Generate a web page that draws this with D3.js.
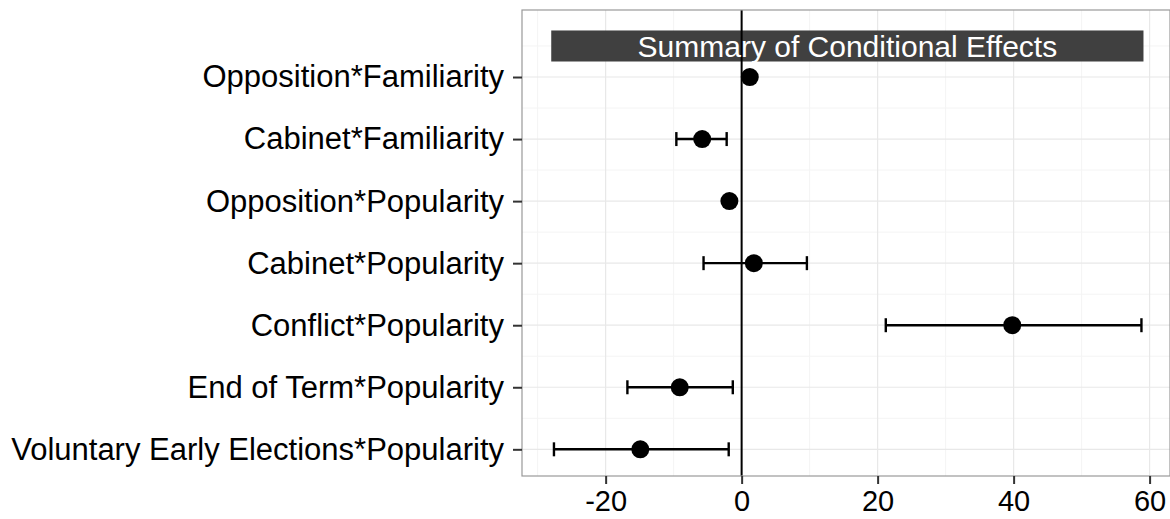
<!DOCTYPE html>
<html>
<head>
<meta charset="utf-8">
<script src="https://cdn.jsdelivr.net/npm/d3@7"></script>
<style>
  body { margin: 0; background: #fff; }
  text { font-family: "Liberation Sans", Arial, sans-serif; }
</style>
</head>
<body>
<div id="viz"></div>
<script>
// terms, top to bottom
var terms = [
  'Opposition*Familiarity',
  'Cabinet*Familiarity',
  'Opposition*Popularity',
  'Cabinet*Popularity',
  'Conflict*Popularity',
  'End of Term*Popularity',
  'Voluntary Early Elections*Popularity'
];
var estimates = [1.2, -5.8, -1.8, 1.8, 39.8, -9.1, -14.9];
var lower     = [0.6, -9.6, -2.3, -5.6, 21.2, -16.8, -27.6];
var upper     = [1.8, -2.2, -1.3, 9.6, 58.8, -1.3, -1.9];
var xTicks = [-20, 0, 20, 40, 60];
var xMinor = [-30, -10, 10, 30, 50];
var titleText = 'Summary of Conditional Effects';
var titleSpan = [-28, 59.1];      // data extent of the title box
var titleRows = [7.25, 7.75];

var width = 1170, height = 519;
var pLeft = 522, pRight = 1170, pTop = 10, pBottom = 476;

var x = d3.scaleLinear().domain([-32.3, 63.0]).range([pLeft, pRight]);
// row 1 is the bottom term
var y = d3.scaleLinear().domain([0.57, 8.08]).range([pBottom, pTop]);

var data = terms.map(function(t, i) {
  return { term: t, est: estimates[i], lo: lower[i], hi: upper[i], row: terms.length - i };
});

var svg = d3.select('#viz').append('svg')
  .attr('width', width)
  .attr('height', height);

var grid = svg.append('g');
grid.selectAll('.minx').data(xMinor).enter().append('line')
  .attr('x1', function(d) { return x(d); }).attr('x2', function(d) { return x(d); })
  .attr('y1', pTop).attr('y2', pBottom)
  .attr('stroke', '#f4f4f4').attr('stroke-width', 1);
var yMinor = d3.range(1.5, 8, 1);
grid.selectAll('.miny').data(yMinor).enter().append('line')
  .attr('x1', pLeft).attr('x2', pRight)
  .attr('y1', function(d) { return y(d); }).attr('y2', function(d) { return y(d); })
  .attr('stroke', '#f4f4f4').attr('stroke-width', 1);
grid.selectAll('.majx').data(xTicks).enter().append('line')
  .attr('x1', function(d) { return x(d); }).attr('x2', function(d) { return x(d); })
  .attr('y1', pTop).attr('y2', pBottom)
  .attr('stroke', '#e8e8e8').attr('stroke-width', 1.2);
grid.selectAll('.majy').data(data).enter().append('line')
  .attr('x1', pLeft).attr('x2', pRight)
  .attr('y1', function(d) { return y(d.row); }).attr('y2', function(d) { return y(d.row); })
  .attr('stroke', '#e8e8e8').attr('stroke-width', 1.2);

// title box
svg.append('rect')
  .attr('x', x(titleSpan[0]))
  .attr('y', y(titleRows[1]))
  .attr('width', x(titleSpan[1]) - x(titleSpan[0]))
  .attr('height', y(titleRows[0]) - y(titleRows[1]))
  .attr('fill', '#404040');

// zero line
svg.append('line')
  .attr('x1', x(0)).attr('x2', x(0))
  .attr('y1', pTop).attr('y2', pBottom)
  .attr('stroke', '#000').attr('stroke-width', 2);

svg.append('text')
  .attr('x', (x(titleSpan[0]) + x(titleSpan[1])) / 2)
  .attr('y', y((titleRows[0] + titleRows[1]) / 2))
  .attr('dy', '0.36em')
  .attr('text-anchor', 'middle')
  .attr('fill', '#fff')
  .style('font-size', '30px')
  .text(titleText);

// error bars
var bars = svg.append('g').selectAll('g').data(data).enter().append('g')
  .attr('stroke', '#000').attr('stroke-width', 2.4);
bars.append('line')
  .attr('x1', function(d) { return x(d.lo); }).attr('x2', function(d) { return x(d.hi); })
  .attr('y1', function(d) { return y(d.row); }).attr('y2', function(d) { return y(d.row); });
bars.append('line')
  .attr('x1', function(d) { return x(d.lo); }).attr('x2', function(d) { return x(d.lo); })
  .attr('y1', function(d) { return y(d.row) - 7; }).attr('y2', function(d) { return y(d.row) + 7; });
bars.append('line')
  .attr('x1', function(d) { return x(d.hi); }).attr('x2', function(d) { return x(d.hi); })
  .attr('y1', function(d) { return y(d.row) - 7; }).attr('y2', function(d) { return y(d.row) + 7; });

svg.append('g').selectAll('circle').data(data).enter().append('circle')
  .attr('cx', function(d) { return x(d.est); })
  .attr('cy', function(d) { return y(d.row); })
  .attr('r', 9)
  .attr('fill', '#000');

// panel border
svg.append('rect')
  .attr('x', pLeft).attr('y', pTop)
  .attr('width', pRight - pLeft).attr('height', pBottom - pTop)
  .attr('fill', 'none')
  .attr('stroke', '#999').attr('stroke-width', 1.2);

// axes
var xAxis = svg.append('g')
  .attr('transform', 'translate(0,' + pBottom + ')')
  .call(d3.axisBottom(x).tickValues(xTicks).tickSize(8).tickPadding(6).tickFormat(function(d) { return String(d); }));
xAxis.select('.domain').remove();
xAxis.selectAll('line').attr('stroke', '#333').attr('stroke-width', 2);
xAxis.selectAll('text').style('font-size', '29px').attr('fill', '#000');

var yAxis = svg.append('g')
  .attr('transform', 'translate(' + pLeft + ',0)')
  .call(d3.axisLeft(y).tickValues(data.map(function(d) { return d.row; }))
    .tickFormat(function(r) { return terms[terms.length - r]; })
    .tickSize(9).tickPadding(9));
yAxis.select('.domain').remove();
yAxis.selectAll('line').attr('stroke', '#333').attr('stroke-width', 2);
yAxis.selectAll('text').style('font-size', '31px').attr('fill', '#000');
</script>
</body>
</html>
